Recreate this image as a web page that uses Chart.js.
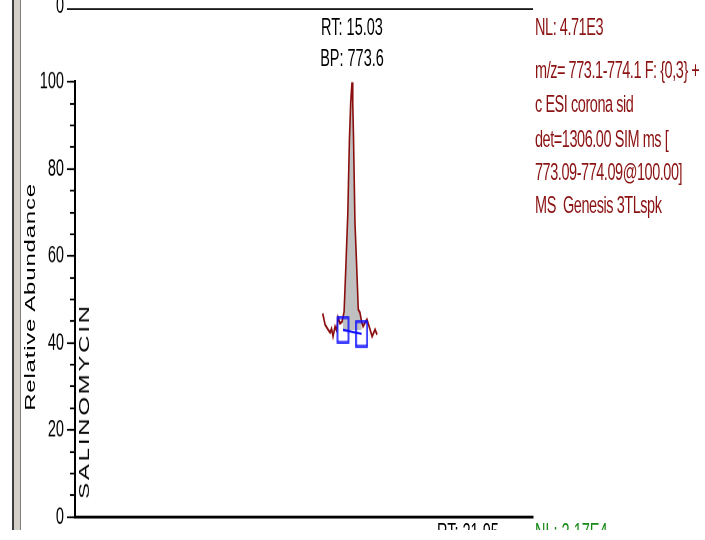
<!DOCTYPE html>
<html>
<head>
<meta charset="utf-8">
<script src="https://cdn.jsdelivr.net/npm/chart.js@4/dist/chart.umd.min.js"></script>
<style>
html,body{margin:0;padding:0;background:#fff;width:705px;height:540px;overflow:hidden;}
#wrap{position:absolute;left:0;top:0;width:705px;height:321.2px;overflow:hidden;transform:scaleY(1.65);transform-origin:0 0;}
#cv{position:absolute;left:0;top:0;}
.t{position:absolute;font-family:'Liberation Sans Narrow','Arial Narrow','Liberation Sans',sans-serif;font-size:14.5px;line-height:16px;white-space:pre;color:#000;}
.red{color:#8b1212;letter-spacing:-0.45px;}
.grn{color:#178a17;}
.bar{position:absolute;top:0;height:330px;}
.rot{transform:translate(-50%,-50%) rotate(-90deg);}
</style>
</head>
<body>
<div id="wrap">
  <canvas id="cv" width="705" height="327"></canvas>
  <div class="bar" style="left:12px;width:1.5px;background:#3c3c3c"></div>
  <div class="bar" style="left:13.5px;width:6.5px;background:#d4d0c8"></div>
  <div class="bar" style="left:20px;width:1px;background:#808080"></div>
  <div style="position:absolute;left:75px;top:4.6px;width:458px;height:1.7px;background:#000"></div>
  <div style="position:absolute;left:67px;top:4.9px;width:8px;height:1px;background:#000"></div>
  <div class="t" id="topZero" style="right:641px;top:-5px">0</div>
  <div class="t" id="rtLbl" style="top:7.8px">RT: 15.03</div>
  <div class="t" id="bpLbl" style="top:26.5px">BP: 773.6</div>
  <div id="info"></div>
  <div class="t rot" id="ytitle" style="left:30px;top:180.3px;letter-spacing:0.5px">Relative Abundance</div>
  <div class="t rot" id="compound" style="left:84px;top:243.3px;letter-spacing:1.7px">SALINOMYCIN</div>
  <div class="t" id="rt2" style="left:437px;top:314.4px">RT: 21.95</div>
  <div class="t grn" id="nl2" style="left:535px;top:314.4px">NL: 2.17E4</div>
</div>
<script>
// ---- data ----
const retentionTime = [13.44, 13.57, 13.73, 13.84, 13.92, 14.00, 14.11, 14.19, 14.27, 14.38, 14.49,
                       14.60, 14.68, 14.80, 14.89, 14.96, 15.03, 15.07, 15.11, 15.19, 15.29, 15.37,
                       15.46, 15.55, 15.63, 15.74, 15.84, 16.01, 16.12, 16.28, 16.39];
const relAbundance  = [46.8, 44.2, 43.1, 42.4, 43.3, 41.5, 43.8, 42.9, 45.9, 44.5, 44.9,
                       47.2, 55.8, 69.6, 86.9, 95.4, 100.0, 95.4, 87.6, 67.7, 56.9, 47.7,
                       47.0, 44.9, 43.8, 44.7, 45.4, 43.1, 41.5, 43.1, 41.9];
const peakBoundRT   = [14.54, 15.55];
const peakBoundAbd  = [43.0, 42.1];
const peakBaseline  = 43.0;
const peakRT = 15.03;
const peakBP = 773.6;
const yMajorStep = 20;
const yMinorStep = 5;
const rtAxisRange = [0, 24.85];
const infoLines = ['NL: 4.71E3', 'm/z= 773.1-774.1 F: {0,3} +', 'c ESI corona sid',
                   'det=1306.00 SIM ms [', '773.09-774.09@100.00]', 'MS  Genesis 3TLspk'];
const infoTops = [7.8, 34.4, 55.0, 75.6, 96.2, 116.2];

// ---- build chart ----
const FONT = "'Liberation Sans Narrow','Arial Narrow','Liberation Sans',sans-serif";
const trace = retentionTime.map((x, i) => ({x, y: relAbundance[i]}));
const peakArea = trace.filter(p => p.x >= peakBoundRT[0] && p.x <= peakBoundRT[1]);
peakArea.unshift({x: peakBoundRT[0], y: 45.5});
peakArea.push({x: peakBoundRT[1], y: peakBoundAbd[1]});
const markers = peakBoundRT.map((x, i) => ({x, y: peakBoundAbd[i]}));

const box = document.createElement('canvas');
box.width = 13; box.height = 17;
(function(){
  const c = box.getContext('2d');
  c.strokeStyle = '#1010ff'; c.lineWidth = 1.6;
  c.strokeRect(1, 1, 11, 15);
})();

const chart = new Chart(document.getElementById('cv'), {
  type: 'line',
  data: {
    datasets: [
      {data: markers, borderColor: '#1010ff', borderWidth: 1.4, pointStyle: box, pointRadius: 7, fill: false},
      {data: trace, borderColor: '#8b0e0e', borderWidth: 1.6, pointRadius: 0, fill: false, tension: 0},
      {data: peakArea, borderWidth: 0, pointRadius: 0, backgroundColor: '#c0c0c0', fill: {value: peakBaseline}, tension: 0}
    ]
  },
  options: {
    responsive: false,
    animation: false,
    devicePixelRatio: 2,
    events: [],
    layout: {padding: {top: 49.7, right: 172, bottom: 13.7, left: 0}},
    plugins: {legend: {display: false}, tooltip: {enabled: false}},
    scales: {
      x: {
        type: 'linear', min: rtAxisRange[0], max: rtAxisRange[1],
        ticks: {display: false},
        grid: {display: true, drawOnChartArea: false, drawTicks: false},
        border: {display: true, color: '#000', width: 1.7},
        afterFit: s => { s.height = 0; }
      },
      y: {
        position: 'left', weight: 1, min: 0, max: 100,
        ticks: {stepSize: yMajorStep, color: '#000', padding: 3, font: {family: FONT, size: 14.5}},
        grid: {drawOnChartArea: false, drawTicks: true, tickLength: 8, tickWidth: 1.1, tickColor: '#000'},
        border: {display: true, color: '#000', width: 2},
        afterFit: s => { s.width = 75; }
      },
      y2: {
        position: 'left', weight: 0, min: 0, max: 100,
        ticks: {stepSize: yMinorStep, display: false},
        grid: {drawOnChartArea: false, drawTicks: true, tickLength: 5, tickWidth: 1.1, tickColor: '#000'},
        border: {display: false},
        afterFit: s => { s.width = 0; }
      }
    }
  }
});

// ---- annotations ----
const xs = chart.scales.x;
const px = xs.getPixelForValue(peakRT);
for (const id of ['rtLbl', 'bpLbl']) {
  const el = document.getElementById(id);
  el.style.left = px + 'px';
  el.style.transform = 'translateX(-50%)';
}
document.getElementById('rtLbl').textContent = 'RT: ' + peakRT.toFixed(2);
document.getElementById('bpLbl').textContent = 'BP: ' + peakBP.toFixed(1);
const info = document.getElementById('info');
infoLines.forEach((s, i) => {
  const d = document.createElement('div');
  d.className = 't red';
  d.style.left = (xs.right + 2) + 'px';
  d.style.top = infoTops[i] + 'px';
  d.textContent = s;
  info.appendChild(d);
});
</script>
</body>
</html>
